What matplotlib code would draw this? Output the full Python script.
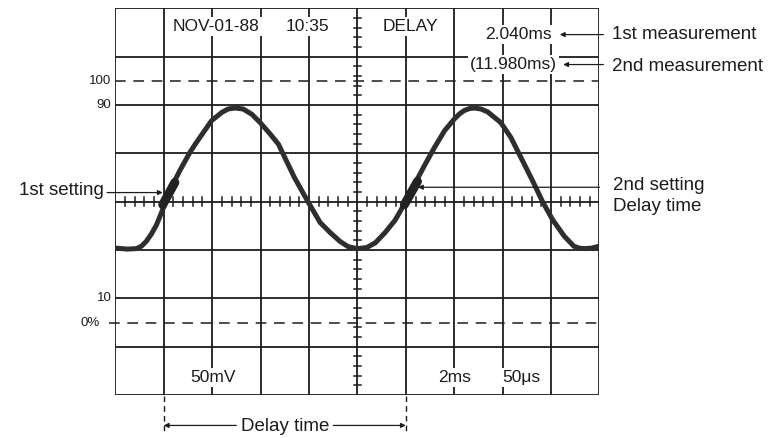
import numpy as np
import matplotlib
matplotlib.use("Agg")
import matplotlib.pyplot as plt

plt.rcParams['font.family'] = ['Liberation Sans', 'DejaVu Sans']

# ---- data (screen divisions: x 0..10, y -4..4) ----
trace_x = [0.01, 0.25, 0.44, 0.54, 0.64, 0.75, 0.85, 1.02, 1.12, 1.33, 1.54, 1.65,
           1.85, 1.99, 2.20, 2.33, 2.47, 2.64, 2.82, 2.99, 3.20, 3.37, 3.46, 3.70,
           3.98, 4.23, 4.44, 4.64, 4.81, 4.99, 5.19, 5.37, 5.57, 5.78, 5.90, 6.00,
           6.18, 6.38, 6.59, 6.80, 7.00, 7.11, 7.21, 7.32, 7.42, 7.55, 7.69, 7.96,
           8.17, 8.38, 8.62, 8.82, 9.03, 9.27, 9.47, 9.58, 9.68, 9.84, 9.99]
trace_y = [-0.96, -0.98, -0.97, -0.92, -0.82, -0.66, -0.48, -0.06, 0.22, 0.64, 1.02, 1.19,
           1.48, 1.68, 1.85, 1.92, 1.94, 1.92, 1.81, 1.64, 1.40, 1.19, 1.00, 0.50,
           0.00, -0.43, -0.64, -0.82, -0.93, -0.97, -0.95, -0.85, -0.64, -0.38, -0.17, 0.02,
           0.36, 0.74, 1.12, 1.47, 1.71, 1.82, 1.89, 1.93, 1.94, 1.92, 1.86, 1.64,
           1.33, 0.91, 0.43, 0.01, -0.37, -0.71, -0.92, -0.96, -0.97, -0.96, -0.92]

setting1_x = [0.98, 1.23]
setting1_y = [-0.06, 0.40]
setting2_x = [5.97, 6.24]
setting2_y = [-0.06, 0.42]

level_labels = ["100", "90", "10", "0%"]
level_values = [2.5, 2.0, -2.0, -2.5]
dashed_levels = [2.5, -2.5]

delay_start = 1.0
delay_end = 6.0

screen_texts = ["NOV-01-88", "10:35", "DELAY", "50mV", "2ms", "50\u03bcs"]
measure1 = "2.040ms"
measure2 = "(11.980ms)"

# ---- figure ----
W, H = 775, 438
fig = plt.figure(figsize=(W / 100, H / 100), dpi=100)
x0, x1 = 115.3, 599.5
y0, y1 = 8.5, 395.0
ax = fig.add_axes([x0 / W, 1 - y1 / H, (x1 - x0) / W, (y1 - y0) / H])
ax.set_xlim(0, 10)
ax.set_ylim(-4, 4)
ax.axis('off')

ink = '#1c1c1c'
# grid
for gx in range(11):
    ax.plot([gx, gx], [-4, 4], color=ink, lw=1.3, zorder=1, solid_capstyle='butt')
for gy in range(-4, 5):
    ax.plot([0, 10], [gy, gy], color=ink, lw=1.3, zorder=1, solid_capstyle='butt')

# minor ticks on centre axes
for t in np.arange(0, 10.01, 0.2):
    if abs(t - round(t)) > 1e-6:
        ax.plot([t, t], [-0.09, 0.09], color=ink, lw=1.1, zorder=1)
for t in np.arange(-4, 4.01, 0.2):
    if abs(t - round(t)) > 1e-6:
        ax.plot([4.93, 5.07], [t, t], color=ink, lw=1.1, zorder=1)

# dashed level lines
ax.plot([0, 10], [dashed_levels[0]] * 2, color=ink, lw=1.1, ls=(0, (7, 5)), zorder=1)
ax.plot([-0.12, 10], [dashed_levels[1]] * 2, color=ink, lw=1.1, ls=(0, (7, 5)), zorder=1,
        clip_on=False)

# level labels
for lab, val in zip(level_labels, level_values):
    xx = -0.33 if lab == "0%" else -0.08
    ax.text(xx, val, lab, ha='right', va='center', fontsize=9.5, color=ink)

# trace
ax.plot(trace_x, trace_y, color='#2e2e2e', lw=3.6, zorder=3,
        solid_capstyle='round', solid_joinstyle='round')
ax.plot(setting1_x, setting1_y, color='#222222', lw=6.5, zorder=4, solid_capstyle='round')
ax.plot(setting2_x, setting2_y, color='#222222', lw=6.5, zorder=4, solid_capstyle='round')

box = dict(facecolor='white', edgecolor='none', pad=1.5)
fs_in = 12.5
ax.text(1.19, 3.63, screen_texts[0], ha='left', va='center', fontsize=fs_in, color=ink, bbox=box, zorder=5)
ax.text(3.52, 3.63, screen_texts[1], ha='left', va='center', fontsize=fs_in, color=ink, bbox=box, zorder=5)
ax.text(5.53, 3.63, screen_texts[2], ha='left', va='center', fontsize=fs_in, color=ink, bbox=box, zorder=5)
ax.text(9.02, 3.46, measure1, ha='right', va='center', fontsize=fs_in, color=ink, bbox=box, zorder=5)
ax.text(9.13, 2.84, measure2, ha='right', va='center', fontsize=fs_in, color=ink, bbox=box, zorder=5)
ax.text(1.55, -3.64, screen_texts[3], ha='left', va='center', fontsize=fs_in, color=ink, bbox=box, zorder=5)
ax.text(6.66, -3.64, screen_texts[4], ha='left', va='center', fontsize=fs_in, color=ink, bbox=box, zorder=5)
ax.text(8.0, -3.64, screen_texts[5], ha='left', va='center', fontsize=fs_in, color=ink, bbox=box, zorder=5)

# outside annotations
fs_out = 13.5
arr = dict(arrowstyle='-|>', color=ink, lw=0.9, mutation_scale=7, shrinkA=0, shrinkB=0)
ax.annotate('', xy=(9.18, 3.46), xytext=(10.08, 3.46), arrowprops=arr, annotation_clip=False)
ax.annotate('', xy=(9.25, 2.84), xytext=(10.08, 2.84), arrowprops=arr, annotation_clip=False)
ax.text(10.26, 3.46, "1st measurement", ha='left', va='center', fontsize=fs_out, color=ink)
ax.text(10.26, 2.80, "2nd measurement", ha='left', va='center', fontsize=fs_out, color=ink)

ax.annotate('', xy=(0.98, 0.19), xytext=(-0.17, 0.19), arrowprops=arr, annotation_clip=False)
ax.text(-0.23, 0.23, "1st setting", ha='right', va='center', fontsize=fs_out, color=ink)
ax.annotate('', xy=(6.25, 0.30), xytext=(10.0, 0.30), arrowprops=arr, annotation_clip=False)
ax.text(10.28, 0.33, "2nd setting", ha='left', va='center', fontsize=fs_out, color=ink)
ax.text(10.28, -0.10, "Delay time", ha='left', va='center', fontsize=fs_out, color=ink)

# delay time bracket
for dx in (delay_start, delay_end):
    ax.plot([dx, dx], [-4.03, -4.75], color=ink, lw=1.0, ls=(0, (4, 3)), clip_on=False)
mid = (delay_start + delay_end) / 2
ax.annotate('', xy=(delay_start, -4.63), xytext=(mid - 1.0, -4.63), arrowprops=arr, annotation_clip=False)
ax.annotate('', xy=(delay_end, -4.63), xytext=(mid + 1.0, -4.63), arrowprops=arr, annotation_clip=False)
ax.text(mid, -4.66, "Delay time", ha='center', va='center', fontsize=fs_out, color=ink)

fig.savefig('out.png', dpi=100, facecolor='white')
